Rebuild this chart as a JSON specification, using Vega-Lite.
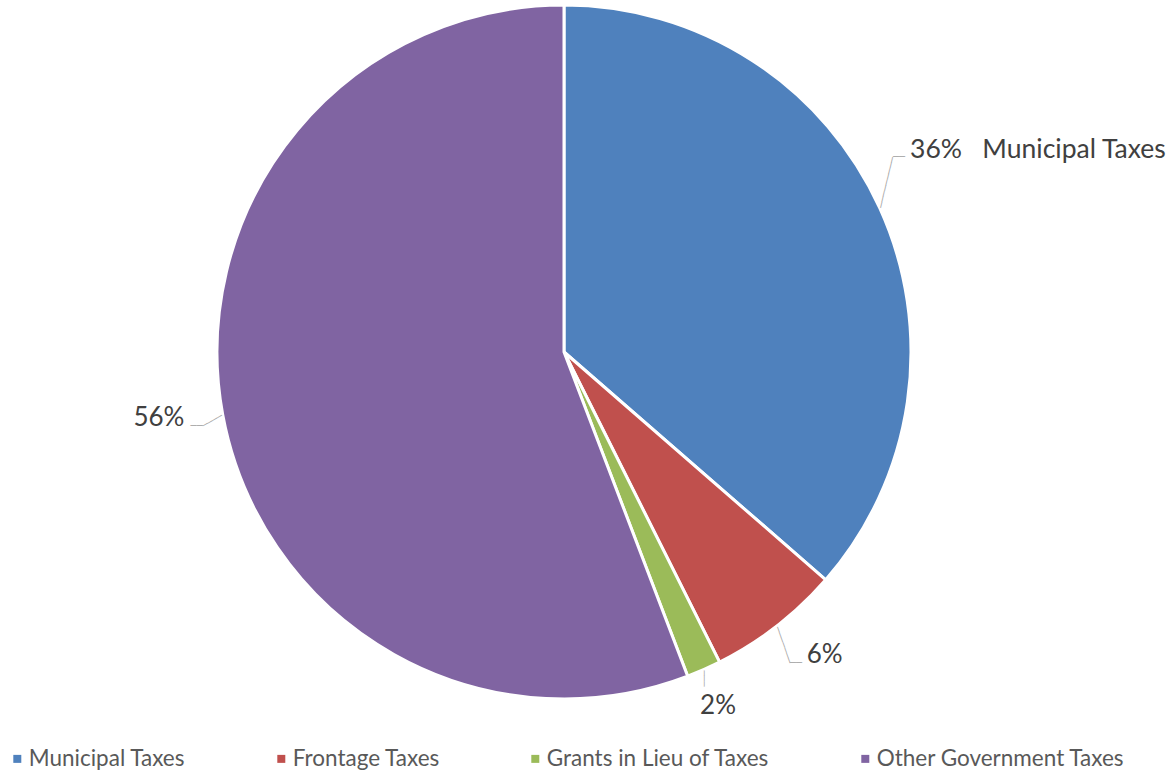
{
  "$schema": "https://vega.github.io/schema/vega-lite/v6.json",
  "width": 1128,
  "height": 704,
  "autosize": {"type": "none"},
  "padding": {"left": 0, "top": 0, "right": 44, "bottom": 67},
  "background": "white",
  "config": {"view": {"stroke": null}, "font": "Lato"},
  "data": {
    "values": [
      {"category": "Municipal Taxes", "value": 36.4, "i": 1, "label": "36%\u00a0\u00a0 Municipal Taxes"},
      {"category": "Frontage Taxes", "value": 6.2, "i": 2, "label": "6%"},
      {"category": "Grants in Lieu of Taxes", "value": 1.6, "i": 3, "label": "2%"},
      {"category": "Other Government Taxes", "value": 55.8, "i": 4, "label": "56%"}
    ]
  },
  "encoding": {
    "theta": {"field": "value", "type": "quantitative", "stack": true, "scale": {"domain": [0, 100]}},
    "order": {"field": "i", "type": "quantitative"}
  },
  "layer": [
    {
      "mark": {"type": "arc", "outerRadius": 347, "stroke": "white", "strokeWidth": 3},
      "encoding": {
        "color": {
          "field": "category",
          "type": "nominal",
          "scale": {
            "domain": ["Municipal Taxes", "Frontage Taxes", "Grants in Lieu of Taxes", "Other Government Taxes"],
            "range": ["#4F81BD", "#C0504D", "#9BBB59", "#8064A2"]
          },
          "legend": {
            "orient": "none",
            "legendX": 4.05,
            "legendY": 747.5,
            "direction": "horizontal",
            "title": null,
            "symbolType": "square",
            "symbolSize": 64,
            "symbolStrokeWidth": 0,
            "symbolOffset": 2,
            "labelFontSize": 22.5,
            "labelFont": "Lato",
            "labelColor": "#595959",
            "labelOffset": 0.2,
            "labelLimit": 500,
            "columnPadding": 82,
            "padding": 0
          }
        }
      }
    },
    {
      "mark": {"type": "text", "radius": 348, "align": "left", "baseline": "middle", "font": "DejaVu Sans Mono", "color": "#a6a6a6"},
      "encoding": {
        "detail": {"field": "category", "type": "nominal"},
        "text": {"condition": [
          {"test": "datum.i == 1", "value": "─────────"},
          {"test": "datum.i == 2", "value": "───────"},
          {"test": "datum.i == 3", "value": "───"}
        ], "value": "────"},
        "angle": {"condition": [
          {"test": "datum.i == 1", "value": -76.4},
          {"test": "datum.i == 2", "value": 70.7},
          {"test": "datum.i == 3", "value": 90}
        ], "value": 150.3},
        "size": {"condition": [
          {"test": "datum.i == 1", "value": 9.65},
          {"test": "datum.i == 2", "value": 9.14},
          {"test": "datum.i == 3", "value": 8.86}
        ], "value": 9.14}
      }
    },
    {
      "mark": {"type": "text", "radius": 348, "dx": 12.3, "dy": -50.8, "align": "left", "baseline": "middle", "font": "DejaVu Sans Mono", "fontSize": 10, "color": "#a6a6a6"},
      "encoding": {
        "detail": {"field": "category", "type": "nominal"},
        "text": {"condition": {"test": "datum.i == 1", "value": "──"}, "value": ""}
      }
    },
    {
      "mark": {"type": "text", "radius": 348, "dx": 12.7, "dy": 36.3, "align": "left", "baseline": "middle", "font": "DejaVu Sans Mono", "fontSize": 10, "color": "#a6a6a6"},
      "encoding": {
        "detail": {"field": "category", "type": "nominal"},
        "text": {"condition": {"test": "datum.i == 2", "value": "──"}, "value": ""}
      }
    },
    {
      "mark": {"type": "text", "radius": 348, "dx": -19.1, "dy": 10.9, "align": "right", "baseline": "middle", "font": "DejaVu Sans Mono", "fontSize": 10, "color": "#a6a6a6"},
      "encoding": {
        "detail": {"field": "category", "type": "nominal"},
        "text": {"condition": {"test": "datum.i == 4", "value": "──"}, "value": ""}
      }
    },
    {
      "mark": {"type": "text", "radius": 348, "dx": 29.3, "dy": -49.8, "align": "left", "baseline": "alphabetic", "fontSize": 26.5, "font": "Lato", "color": "#404040"},
      "encoding": {
        "detail": {"field": "category", "type": "nominal"},
        "text": {"condition": {"test": "datum.i == 1", "field": "label"}, "value": ""}
      }
    },
    {
      "mark": {"type": "text", "radius": 348, "dx": 29.5, "dy": 36.5, "align": "left", "baseline": "alphabetic", "fontSize": 26, "font": "Lato", "color": "#404040"},
      "encoding": {
        "detail": {"field": "category", "type": "nominal"},
        "text": {"condition": {"test": "datum.i == 2", "field": "label"}, "value": ""}
      }
    },
    {
      "mark": {"type": "text", "radius": 348, "dx": 13.8, "dy": 43.8, "align": "center", "baseline": "alphabetic", "fontSize": 26, "font": "Lato", "color": "#404040"},
      "encoding": {
        "detail": {"field": "category", "type": "nominal"},
        "text": {"condition": {"test": "datum.i == 3", "field": "label"}, "value": ""}
      }
    },
    {
      "mark": {"type": "text", "radius": 348, "dx": -37.3, "dy": 10.9, "align": "right", "baseline": "alphabetic", "fontSize": 26, "font": "Lato", "color": "#404040"},
      "encoding": {
        "detail": {"field": "category", "type": "nominal"},
        "text": {"condition": {"test": "datum.i == 4", "field": "label"}, "value": ""}
      }
    }
  ]
}
